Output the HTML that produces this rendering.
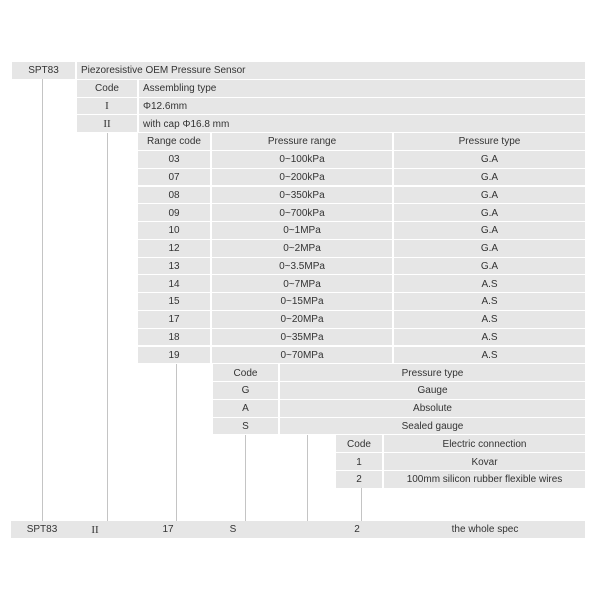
<!DOCTYPE html>
<html><head><meta charset="utf-8"><style>
body{margin:0;width:600px;height:600px;background:#fff;position:relative;overflow:hidden;font-family:"Liberation Sans",sans-serif;font-size:10px;color:#333}
.c{position:absolute;background:#e6e6e6;height:16.8px;display:flex;align-items:center;white-space:nowrap;overflow:hidden;padding-top:1px;box-sizing:border-box}
.m{justify-content:center}
.l{padding-left:4px}
.v{position:absolute;width:1px;background:#c4c4c4}
.r{font-family:"Liberation Serif",serif;font-size:11px}
</style></head><body>
<div class="c m" style="left:12px;width:63px;top:62px">SPT83</div>
<div class="c l" style="left:77px;width:508px;top:62px">Piezoresistive OEM Pressure Sensor</div>

<div class="c m" style="left:77px;width:60px;top:79.8px">Code</div>
<div class="c l" style="left:139px;width:446px;top:79.8px">Assembling type</div>
<div class="c m r" style="left:77px;width:60px;top:97.6px">I</div>
<div class="c l" style="left:139px;width:446px;top:97.6px">Φ12.6mm</div>
<div class="c m r" style="left:77px;width:60px;top:115.3px">II</div>
<div class="c l" style="left:139px;width:446px;top:115.3px">with cap Φ16.8 mm</div>

<div class="c m" style="left:138px;width:72px;top:133.1px">Range code</div>
<div class="c m" style="left:212px;width:180px;top:133.1px">Pressure range</div>
<div class="c m" style="left:394px;width:191px;top:133.1px">Pressure type</div>

<div class="c m" style="left:138px;width:72px;top:150.9px">03</div><div class="c m" style="left:212px;width:180px;top:150.9px">0~100kPa</div><div class="c m" style="left:394px;width:191px;top:150.9px">G.A</div>
<div class="c m" style="left:138px;width:72px;top:168.7px">07</div><div class="c m" style="left:212px;width:180px;top:168.7px">0~200kPa</div><div class="c m" style="left:394px;width:191px;top:168.7px">G.A</div>
<div class="c m" style="left:138px;width:72px;top:186.5px">08</div><div class="c m" style="left:212px;width:180px;top:186.5px">0~350kPa</div><div class="c m" style="left:394px;width:191px;top:186.5px">G.A</div>
<div class="c m" style="left:138px;width:72px;top:204.2px">09</div><div class="c m" style="left:212px;width:180px;top:204.2px">0~700kPa</div><div class="c m" style="left:394px;width:191px;top:204.2px">G.A</div>
<div class="c m" style="left:138px;width:72px;top:222px">10</div><div class="c m" style="left:212px;width:180px;top:222px">0~1MPa</div><div class="c m" style="left:394px;width:191px;top:222px">G.A</div>
<div class="c m" style="left:138px;width:72px;top:239.8px">12</div><div class="c m" style="left:212px;width:180px;top:239.8px">0~2MPa</div><div class="c m" style="left:394px;width:191px;top:239.8px">G.A</div>
<div class="c m" style="left:138px;width:72px;top:257.6px">13</div><div class="c m" style="left:212px;width:180px;top:257.6px">0~3.5MPa</div><div class="c m" style="left:394px;width:191px;top:257.6px">G.A</div>
<div class="c m" style="left:138px;width:72px;top:275.4px">14</div><div class="c m" style="left:212px;width:180px;top:275.4px">0~7MPa</div><div class="c m" style="left:394px;width:191px;top:275.4px">A.S</div>
<div class="c m" style="left:138px;width:72px;top:293.1px">15</div><div class="c m" style="left:212px;width:180px;top:293.1px">0~15MPa</div><div class="c m" style="left:394px;width:191px;top:293.1px">A.S</div>
<div class="c m" style="left:138px;width:72px;top:310.9px">17</div><div class="c m" style="left:212px;width:180px;top:310.9px">0~20MPa</div><div class="c m" style="left:394px;width:191px;top:310.9px">A.S</div>
<div class="c m" style="left:138px;width:72px;top:328.7px">18</div><div class="c m" style="left:212px;width:180px;top:328.7px">0~35MPa</div><div class="c m" style="left:394px;width:191px;top:328.7px">A.S</div>
<div class="c m" style="left:138px;width:72px;top:346.5px">19</div><div class="c m" style="left:212px;width:180px;top:346.5px">0~70MPa</div><div class="c m" style="left:394px;width:191px;top:346.5px">A.S</div>

<div class="c m" style="left:213px;width:65px;top:364.3px">Code</div><div class="c m" style="left:280px;width:305px;top:364.3px">Pressure type</div>
<div class="c m" style="left:213px;width:65px;top:382px">G</div><div class="c m" style="left:280px;width:305px;top:382px">Gauge</div>
<div class="c m" style="left:213px;width:65px;top:399.8px">A</div><div class="c m" style="left:280px;width:305px;top:399.8px">Absolute</div>
<div class="c m" style="left:213px;width:65px;top:417.6px">S</div><div class="c m" style="left:280px;width:305px;top:417.6px">Sealed gauge</div>

<div class="c m" style="left:336px;width:46px;top:435.4px">Code</div><div class="c m" style="left:384px;width:201px;top:435.4px">Electric connection</div>
<div class="c m" style="left:336px;width:46px;top:453.2px">1</div><div class="c m" style="left:384px;width:201px;top:453.2px">Kovar</div>
<div class="c m" style="left:336px;width:46px;top:470.9px">2</div><div class="c m" style="left:384px;width:201px;top:470.9px">100mm silicon rubber flexible wires</div>

<div class="v" style="left:42px;top:79px;height:442px"></div>
<div class="v" style="left:107px;top:133px;height:388px"></div>
<div class="v" style="left:176px;top:364px;height:157px"></div>
<div class="v" style="left:245px;top:435px;height:86px"></div>
<div class="v" style="left:307px;top:435px;height:86px"></div>
<div class="v" style="left:361px;top:488px;height:33px"></div>

<div class="c" style="left:11px;width:574px;top:521px"></div>
<div class="c m" style="left:12px;width:60px;top:521px;background:none">SPT83</div>
<div class="c m r" style="left:80px;width:30px;top:521px;background:none">II</div>
<div class="c m" style="left:153px;width:30px;top:521px;background:none">17</div>
<div class="c m" style="left:218px;width:30px;top:521px;background:none">S</div>
<div class="c m" style="left:342px;width:30px;top:521px;background:none">2</div>
<div class="c m" style="left:420px;width:130px;top:521px;background:none">the whole spec</div>
</body></html>
